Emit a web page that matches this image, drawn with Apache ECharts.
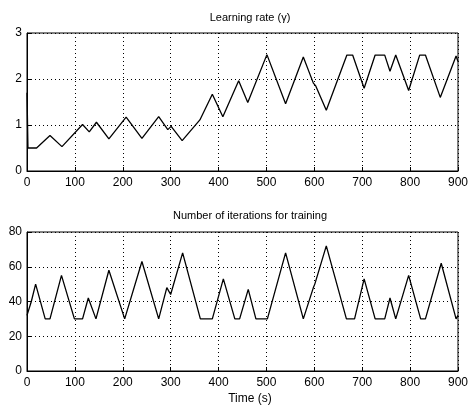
<!DOCTYPE html>
<html>
<head>
<meta charset="utf-8">
<script src="https://cdn.jsdelivr.net/npm/echarts@6/dist/echarts.min.js"></script>
<style>
html,body{margin:0;padding:0;background:#fff;}
#c{width:471px;height:405px;}
</style>
</head>
<body>
<div id="c"></div>
<script>
// Top: learning rate
var lrTime = [0, 2, 20, 48, 73, 116, 130, 145, 171, 207, 240, 275, 294, 301, 324, 361, 387, 409, 442, 461, 501, 540, 577, 598, 603, 625, 668, 680, 704, 727, 747, 758, 770, 797, 820, 832, 863, 896, 900];
var lrValue = [1.7, 0.5, 0.5, 0.77, 0.53, 1.01, 0.85, 1.06, 0.70, 1.17, 0.71, 1.18, 0.90, 0.97, 0.66, 1.11, 1.67, 1.18, 1.96, 1.49, 2.53, 1.46, 2.48, 1.91, 1.85, 1.32, 2.52, 2.52, 1.80, 2.52, 2.52, 2.17, 2.52, 1.75, 2.52, 2.52, 1.60, 2.50, 2.38];
// Bottom: number of iterations
var itTime = [0, 9, 18, 38, 48, 72, 99, 116, 128, 144, 171, 204, 240, 275, 292, 300, 325, 362, 387, 410, 434, 444, 462, 478, 502, 540, 577, 598, 601, 625, 667, 684, 704, 727, 747, 758, 770, 797, 822, 832, 865, 896, 900];
var itValue = [32, 40, 50, 30, 30, 55, 30, 30, 42, 30, 58, 30, 63, 30, 48, 44, 68, 30, 30, 53, 30, 30, 47, 30, 30, 68, 30, 48, 50, 72, 30, 30, 53, 30, 30, 42, 30, 55, 30, 30, 62, 30, 32];
var xTicks = [0, 100, 200, 300, 400, 500, 600, 700, 800, 900];
var titles = ['Learning rate (\u03b3)', 'Number of iterations for training'];
var xName = 'Time (s)';

function pairs(t, v) { return t.map(function (x, i) { return [x, v[i]]; }); }

var FONT = 'Liberation Sans';
var grids = [
  {left: 27, right: 9, top: 33, height: 138, show: true, borderColor: '#000', borderWidth: 1},
  {left: 27, right: 9, top: 232, height: 139, show: true, borderColor: '#000', borderWidth: 1}
];
function xAx(gi) {
  return {
    type: 'value', gridIndex: gi, min: xTicks[0], max: xTicks[xTicks.length - 1], interval: xTicks[1] - xTicks[0],
    axisLine: {show: true, lineStyle: {color: '#000'}},
    axisTick: {show: true, inside: true, length: 4, lineStyle: {color: '#000'}},
    axisLabel: {color: '#000', fontFamily: FONT, fontSize: 12, margin: 6},
    splitLine: {show: true, lineStyle: {color: '#000', type: [1, 3], width: 1}}
  };
}
function yAx(gi, max, step) {
  return {
    type: 'value', gridIndex: gi, min: 0, max: max, interval: step,
    axisLine: {show: true, lineStyle: {color: '#000'}},
    axisTick: {show: true, inside: true, length: 4, lineStyle: {color: '#000'}},
    axisLabel: {color: '#000', fontFamily: FONT, fontSize: 12, margin: 5},
    splitLine: {show: true, lineStyle: {color: '#000', type: [1, 3], width: 1}}
  };
}
var chart = echarts.init(document.getElementById('c'), null, {renderer: 'canvas'});
chart.setOption({
  backgroundColor: '#fff',
  animation: false,
  title: [
    {text: titles[0], left: 245, top: 7, textAlign: 'center', textStyle: {fontFamily: FONT, fontSize: 11, fontWeight: 'normal', color: '#000'}},
    {text: titles[1], left: 245, top: 205, textAlign: 'center', textStyle: {fontFamily: FONT, fontSize: 11, fontWeight: 'normal', color: '#000'}},
    {text: xName, left: 245, top: 388, textAlign: 'center', textStyle: {fontFamily: FONT, fontSize: 12, fontWeight: 'normal', color: '#000'}}
  ],
  grid: grids,
  xAxis: [xAx(0), xAx(1)],
  yAxis: [yAx(0, 3, 1), yAx(1, 80, 20)],
  series: [
    {type: 'line', xAxisIndex: 0, yAxisIndex: 0, data: pairs(lrTime, lrValue), showSymbol: false, lineStyle: {color: '#000', width: 1.3}},
    {type: 'line', xAxisIndex: 1, yAxisIndex: 1, data: pairs(itTime, itValue), showSymbol: false, lineStyle: {color: '#000', width: 1.3}}
  ]
});
</script>
</body>
</html>
